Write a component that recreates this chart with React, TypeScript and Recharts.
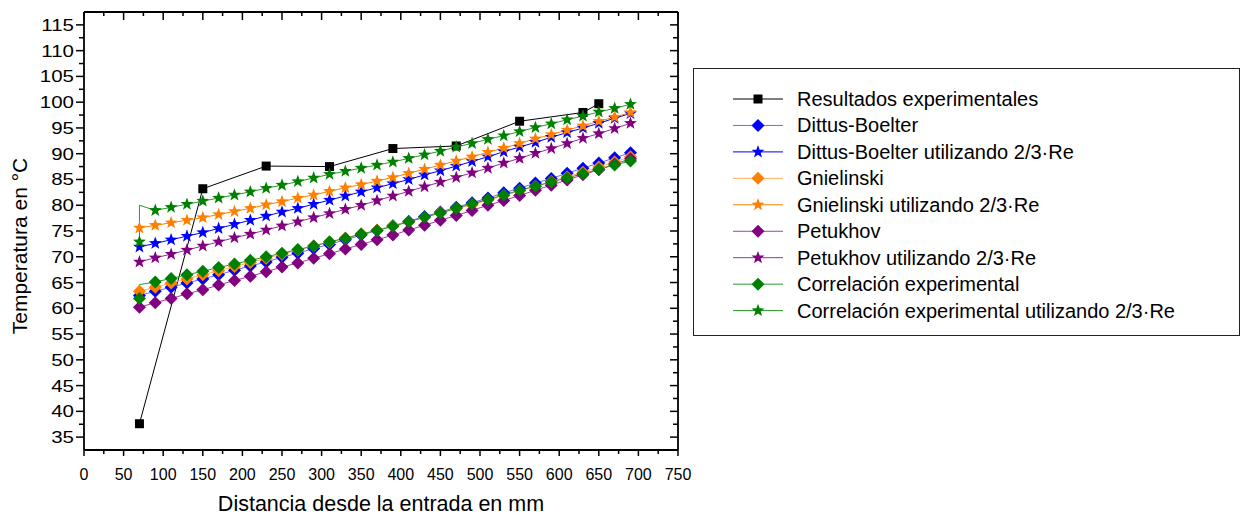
import React from 'react';
import { LineChart, Line, XAxis, YAxis, Legend } from 'recharts';

// distance along the tube (mm)
const modelX = [70, 90, 110, 130, 150, 170, 190, 210, 230, 250, 270, 290, 310, 330, 350, 370, 390, 410, 430, 450, 470, 490, 510, 530, 550, 570, 590, 610, 630, 650, 670, 690];
const expX = [70, 150, 230, 310, 390, 470, 550, 630, 650];
// the correlation curves start with a doubled point at 70 mm
const corrX = [70, ...modelX];

const expY = [37.6, 83.2, 87.6, 87.5, 91.0, 91.5, 96.3, 98.0, 99.7];

const dittus = [62.5, 63.3, 64.1, 64.9, 65.7, 66.5, 67.4, 68.2, 69.0, 69.9, 70.7, 71.6, 72.4, 73.3, 74.2, 75.1, 76.0, 76.9, 77.8, 78.7, 79.6, 80.5, 81.4, 82.4, 83.3, 84.3, 85.2, 86.2, 87.2, 88.2, 89.2, 90.2];
const dittus23 = [71.9, 72.6, 73.3, 74.0, 74.7, 75.5, 76.3, 77.1, 77.9, 78.7, 79.4, 80.2, 81.0, 81.8, 82.6, 83.4, 84.2, 85.0, 85.9, 86.7, 87.6, 88.5, 89.4, 90.4, 91.3, 92.2, 93.2, 94.1, 95.0, 95.9, 96.9, 97.8];
const gniel = [63.3, 64.1, 64.9, 65.7, 66.5, 67.3, 68.1, 68.9, 69.7, 70.5, 71.3, 72.1, 72.8, 73.6, 74.4, 75.2, 76.0, 76.8, 77.6, 78.5, 79.3, 80.1, 81.0, 81.9, 82.8, 83.7, 84.6, 85.5, 86.4, 87.4, 88.4, 89.4];
const gniel23 = [75.6, 76.1, 76.6, 77.1, 77.6, 78.2, 78.8, 79.4, 80.1, 80.7, 81.4, 82.0, 82.7, 83.4, 84.0, 84.7, 85.4, 86.2, 87.0, 87.8, 88.6, 89.4, 90.3, 91.1, 92.0, 92.9, 93.7, 94.6, 95.4, 96.3, 97.1, 98.0];
const petuk = [60.2, 61.1, 61.9, 62.8, 63.6, 64.5, 65.4, 66.2, 67.1, 68.0, 68.8, 69.7, 70.6, 71.5, 72.4, 73.3, 74.2, 75.2, 76.1, 77.1, 78.0, 79.0, 80.0, 80.9, 81.9, 82.9, 83.9, 84.9, 85.9, 86.9, 88.0, 89.0];
const petuk23 = [69.0, 69.8, 70.5, 71.3, 72.1, 72.9, 73.7, 74.4, 75.2, 76.0, 76.8, 77.6, 78.4, 79.2, 80.0, 80.9, 81.8, 82.7, 83.6, 84.5, 85.4, 86.3, 87.2, 88.2, 89.1, 90.1, 91.0, 92.0, 93.0, 93.9, 94.9, 95.9];
const corr = [61.9, 64.6, 65.1, 65.8, 66.5, 67.2, 67.9, 68.6, 69.3, 70.0, 70.7, 71.4, 72.1, 72.9, 73.6, 74.4, 75.1, 75.9, 76.8, 77.7, 78.5, 79.4, 80.3, 81.1, 82.0, 82.9, 83.7, 84.5, 85.3, 86.1, 87.0, 87.8, 88.6];
const corr23 = [72.9, 80.0, 79.0, 79.6, 80.2, 80.8, 81.4, 82.0, 82.6, 83.3, 83.9, 84.6, 85.3, 86.0, 86.6, 87.2, 87.8, 88.4, 89.1, 89.8, 90.5, 91.3, 92.0, 92.8, 93.5, 94.3, 95.1, 95.8, 96.6, 97.3, 98.1, 98.8, 99.6];

const xTicks = [0, 25, 50, 75, 100, 125, 150, 175, 200, 225, 250, 275, 300, 325, 350, 375, 400, 425, 450, 475, 500, 525, 550, 575, 600, 625, 650, 675, 700, 725, 750];
const yTicks = [35, 37.5, 40, 42.5, 45, 47.5, 50, 52.5, 55, 57.5, 60, 62.5, 65, 67.5, 70, 72.5, 75, 77.5, 80, 82.5, 85, 87.5, 90, 92.5, 95, 97.5, 100, 102.5, 105, 107.5, 110, 112.5, 115];

const FONT = '"Liberation Sans", Arial, sans-serif';

type Shape = 'square' | 'diamond' | 'star';

const toPoints = (xs: number[], ys: number[]) => xs.map((x, i) => ({ x, y: ys[i] }));

const series = [
    { name: 'Resultados experimentales', color: '#000000', line: '#000000', shape: 'square' as Shape, data: toPoints(expX, expY), skip: -1 },
    { name: 'Dittus-Boelter', color: '#0000ff', line: '#6a6aff', shape: 'diamond' as Shape, data: toPoints(modelX, dittus), skip: -1 },
    { name: 'Dittus-Boelter utilizando 2/3·Re', color: '#0000ff', line: '#0000ff', shape: 'star' as Shape, data: toPoints(modelX, dittus23), skip: -1 },
    { name: 'Gnielinski', color: '#ff8000', line: '#ffae60', shape: 'diamond' as Shape, data: toPoints(modelX, gniel), skip: -1 },
    { name: 'Gnielinski utilizando 2/3·Re', color: '#ff8000', line: '#ff8000', shape: 'star' as Shape, data: toPoints(modelX, gniel23), skip: -1 },
    { name: 'Petukhov', color: '#800080', line: '#a040a0', shape: 'diamond' as Shape, data: toPoints(modelX, petuk), skip: -1 },
    { name: 'Petukhov utilizando 2/3·Re', color: '#800080', line: '#9a309a', shape: 'star' as Shape, data: toPoints(modelX, petuk23), skip: -1 },
    { name: 'Correlación experimental', color: '#008000', line: '#2a9a2a', shape: 'diamond' as Shape, data: toPoints(corrX, corr), skip: 1 },
    { name: 'Correlación experimental utilizando 2/3·Re', color: '#008000', line: '#2a9a2a', shape: 'star' as Shape, data: toPoints(corrX, corr23), skip: 1 },
];

function Marker({ shape, cx, cy, color }: { shape: Shape; cx: number; cy: number; color: string }) {
    if (shape === 'square') {
        return <rect x={cx - 4.5} y={cy - 4.5} width={9} height={9} fill={color} />;
    }
    if (shape === 'diamond') {
        const r = 6.5;
        return <polygon points={`${cx},${cy - r} ${cx + r},${cy} ${cx},${cy + r} ${cx - r},${cy}`} fill={color} />;
    }
    const pts: string[] = [];
    for (let k = 0; k < 10; k++) {
        const rad = k % 2 === 0 ? 6.8 : 2.8;
        const a = -Math.PI / 2 + (k * Math.PI) / 5;
        pts.push(`${cx + rad * Math.cos(a)},${cy + rad * Math.sin(a)}`);
    }
    return <polygon points={pts.join(' ')} fill={color} />;
}

const XTick = (props: any) => {
    const { x, y, payload } = props;
    const major = payload.value % 50 === 0;
    return (
        <g>
            <line x1={x} y1={y} x2={x} y2={y + (major ? 6 : 4)} stroke="#000" strokeWidth={1.5} />
            {major && (
                <text x={x} y={y + 30} textAnchor="middle" fontSize={16} fontFamily={FONT} fill="#000">
                    {payload.value}
                </text>
            )}
        </g>
    );
};

// frame ticks on top and right point into the plot
const TopTick = (props: any) => {
    const { x, y, payload } = props;
    const major = payload.value % 50 === 0;
    return <line x1={x} y1={y} x2={x} y2={y + (major ? 8 : 4)} stroke="#000" strokeWidth={1.5} />;
};

const YTick = (props: any) => {
    const { x, y, payload } = props;
    const major = payload.value % 5 === 0;
    return (
        <g>
            <line x1={x} y1={y} x2={x - (major ? 8 : 5)} y2={y} stroke="#000" strokeWidth={1.5} />
            {major && (
                <text
                    transform={`translate(${x - 10},${y + 6}) scale(1.28,1)`}
                    textAnchor="end"
                    fontSize={16}
                    fontFamily={FONT}
                    fill="#000"
                >
                    {payload.value}
                </text>
            )}
        </g>
    );
};

const RightTick = (props: any) => {
    const { x, y, payload } = props;
    const major = payload.value % 5 === 0;
    return <line x1={x} y1={y} x2={x - (major ? 8 : 5)} y2={y} stroke="#000" strokeWidth={1.5} />;
};

const LegendBox = () => (
    <div style={{ width: 547, height: 268, border: '1px solid #222', boxSizing: 'border-box', background: '#fff' }}>
        <svg width={545} height={266}>
            {series.map((s, i) => {
                const cy = 30 + i * 26.45;
                return (
                    <g key={s.name}>
                        <line x1={39} y1={cy} x2={89} y2={cy} stroke={s.line} strokeWidth={1} />
                        <Marker shape={s.shape} cx={64} cy={cy} color={s.color} />
                        <text x={103} y={cy + 7} fontSize={20} fontFamily={FONT} fill="#000">
                            {s.name}
                        </text>
                    </g>
                );
            })}
        </svg>
    </div>
);

export default function App() {
    return (
        <div style={{ position: 'absolute', left: 0, top: 0, width: 1248, height: 516, background: '#fff' }}>
            <LineChart width={1248} height={516} margin={{ top: 11, right: 569, bottom: 0, left: 0 }}>
                <XAxis
                    dataKey="x"
                    type="number"
                    domain={[0, 750]}
                    ticks={xTicks}
                    interval={0}
                    tickSize={0}
                    tickMargin={0}
                    tick={<XTick />}
                    height={66}
                    axisLine={{ stroke: '#000', strokeWidth: 1.8 }}
                    allowDataOverflow
                    label={{
                        content: () => (
                            <text x={381} y={511} textAnchor="middle" fontSize={21.5} fontFamily={FONT} fill="#000">
                                Distancia desde la entrada en mm
                            </text>
                        ),
                    }}
                />
                <XAxis
                    xAxisId="top"
                    dataKey="x"
                    orientation="top"
                    type="number"
                    domain={[0, 750]}
                    ticks={xTicks}
                    interval={0}
                    tickSize={0}
                    tickMargin={0}
                    tick={<TopTick />}
                    height={1}
                    axisLine={{ stroke: '#000', strokeWidth: 1.8 }}
                    allowDataOverflow
                />
                <YAxis
                    type="number"
                    domain={[32.5, 117.5]}
                    ticks={yTicks}
                    interval={0}
                    tickSize={0}
                    tickMargin={0}
                    tick={<YTick />}
                    width={84}
                    axisLine={{ stroke: '#000', strokeWidth: 1.8 }}
                    allowDataOverflow
                    label={{
                        content: () => (
                            <text
                                transform="translate(27,246) rotate(-90)"
                                textAnchor="middle"
                                fontSize={21}
                                fontFamily={FONT}
                                fill="#000"
                            >
                                Temperatura en °C
                            </text>
                        ),
                    }}
                />
                <YAxis
                    yAxisId="right"
                    orientation="right"
                    type="number"
                    domain={[32.5, 117.5]}
                    ticks={yTicks}
                    interval={0}
                    tickSize={0}
                    tickMargin={0}
                    tick={<RightTick />}
                    width={1}
                    axisLine={{ stroke: '#000', strokeWidth: 1.8 }}
                    allowDataOverflow
                />
                {/* invisible carrier so the frame axes get a scale */}
                <Line
                    xAxisId="top"
                    yAxisId="right"
                    data={series[0].data}
                    dataKey="y"
                    stroke="none"
                    dot={false}
                    activeDot={false}
                    legendType="none"
                    isAnimationActive={false}
                />
                {series.map((s) => (
                    <Line
                        key={s.name}
                        name={s.name}
                        data={s.data}
                        dataKey="y"
                        type="linear"
                        stroke={s.line}
                        strokeWidth={1}
                        isAnimationActive={false}
                        dot={(p: any) =>
                            p.index === s.skip ? (
                                <g key={`d-${p.index}`} />
                            ) : (
                                <g key={`d-${p.index}`}>
                                    <Marker shape={s.shape} cx={p.cx} cy={p.cy} color={s.color} />
                                </g>
                            )
                        }
                        activeDot={false}
                    />
                ))}
                <Legend
                    layout="horizontal"
                    verticalAlign="middle"
                    align="center"
                    content={<LegendBox />}
                    wrapperStyle={{ left: 693, top: 68, width: 547, height: 268 }}
                />
            </LineChart>
        </div>
    );
}
